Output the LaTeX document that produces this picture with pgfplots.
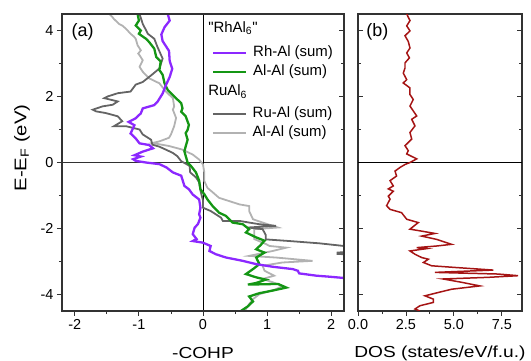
\documentclass[border=0pt]{standalone}
\usepackage{pgfplots}
\pgfplotsset{compat=1.18}
\usepackage{fontspec}
\setmainfont{Liberation Sans}
\newfontfamily\widefont[FakeStretch=1.2]{Liberation Sans}
\newfontfamily\qfont{Liberation Sans}
\definecolor{cviolet}{RGB}{140,40,255}
\definecolor{cgreen}{RGB}{20,150,20}
\definecolor{cdark}{RGB}{100,100,100}
\definecolor{clight}{RGB}{178,178,178}
\definecolor{cwine}{RGB}{165,20,20}
\definecolor{cframe}{RGB}{50,50,50}
\newcommand{\tfont}{\fontsize{14.5}{16}\selectfont}
\newcommand{\lfont}{\widefont\fontsize{16}{18}\selectfont}
\pgfplotsset{
  base/.style={
    scale only axis, width=282bp, height=297bp,
    ymin=-4.5, ymax=4.5,
    ytick={-4,-2,0,2,4}, minor ytick={-3,-1,1,3},
    major tick length=5bp, minor tick length=3bp,
    axis line style={cframe, line width=1.1pt},
    every tick/.style={cframe, line width=0.9pt},
    tick label style={font=\tfont},
    /pgf/number format/assume math mode=true,
    label style={font=\lfont},
  },
  legimg/.style={legend image code/.code={\draw[##1] (0bp,0bp) -- (33bp,0bp);}},
}
\begin{document}
\begin{tikzpicture}
\useasboundingbox (0,0) rectangle (531bp,361bp);
% ---------- panel (a)
\begin{axis}[base, at={(62bp,50bp)}, anchor=south west,
  xmin=-2.2, xmax=2.2,
  xtick={-2,-1,0,1,2}, minor xtick={-1.5,-0.5,0.5,1.5},
  xtick pos=bottom, ytick pos=left, tick align=outside,
  xlabel={-COHP}, ylabel={E-E\textsubscript{F} (eV)},
  xlabel style={at={(axis description cs:0.5,0)}, anchor=center, yshift=-42bp},
  ylabel style={at={(axis description cs:-0.142,0.549)}, anchor=center, font=\widefont\fontsize{17}{19}\selectfont},
  legimg,
  legend style={at={(axis description cs:0.531,0.9007)}, anchor=north west,
    draw=none, fill=none, inner sep=0pt, row sep=0pt,
    nodes={font=\fontsize{15}{17}\selectfont, inner xsep=6bp, inner ysep=3bp, text height=10bp, text depth=3bp}},
  legend cell align=left,
  clip=true,
]
\addplot[cframe, line width=0.8pt, forget plot] coordinates {(-2.2,0) (2.2,0)};
\addplot[black, line width=0.9pt, forget plot] coordinates {(0,-4.5) (0,4.5)};
% light gray: RuAl6 Al-Al
\addplot[clight, line width=1.8pt, forget plot] coordinates {
(-1.46,4.5) (-1.41,4.4) (-1.39,4.35) (-1.31,4.2) (-1.26,4.15) (-1.2,4.05) (-1.13,3.9) (-1.08,3.82) (-1.05,3.75) (-1.02,3.55) (-0.97,3.4) (-1.01,3.3) (-0.99,3.25) (-0.94,3.1) (-0.99,2.9) (-0.94,2.75) (-0.84,2.55) (-0.68,2.4) (-0.58,2.15) (-0.47,1.95) (-0.45,1.7) (-0.47,1.6) (-0.42,1.35) (-0.45,1.1) (-0.5,0.85) (-0.53,0.75) (-0.68,0.64) (-0.79,0.59) (-0.53,0.5) (-0.32,0.39) (-0.16,0.24) (-0.06,0.09) (0.0,-0.06) (0.02,-0.3) (0.02,-0.56) (0.07,-0.77) (0.15,-0.9) (0.25,-1.07) (0.41,-1.17) (0.57,-1.27) (0.72,-1.32) (0.72,-1.47) (0.78,-1.72) (0.93,-1.82) (1.17,-1.97) (0.80,-2.02) (0.80,-2.32) (0.98,-2.47) (1.04,-2.53) (1.3,-2.58) (1.09,-2.68) (0.72,-2.83) (1.14,-2.88) (1.71,-2.98) (1.24,-3.03) (0.93,-3.13) (0.96,-3.28) (1.11,-3.43) (0.93,-3.53) (1.09,-3.63) (1.24,-3.74) (1.14,-3.84) (0.88,-3.99) (0.78,-4.14) (0.72,-4.29) (0.65,-4.5)};
% dark gray: RuAl6 Ru-Al
\addplot[cdark, line width=1.8pt, forget plot] coordinates {
(-0.99,4.5) (-0.94,4.2) (-0.86,3.9) (-0.76,3.75) (-0.71,3.5) (-0.63,3.15) (-0.68,2.85) (-0.81,2.64) (-0.94,2.44) (-1.05,2.36) (-1.13,2.15) (-1.33,2.1) (-1.49,2.0) (-1.54,1.95) (-1.33,1.85) (-1.41,1.75) (-1.57,1.70) (-1.72,1.6) (-1.67,1.55) (-1.52,1.5) (-1.33,1.4) (-1.26,1.25) (-1.39,1.1) (-1.2,1.1) (-0.99,1.0) (-0.94,0.85) (-0.81,0.69) (-0.79,0.54) (-0.68,0.48) (-0.58,0.39) (-0.47,0.29) (-0.40,0.19) (-0.34,0.04) (-0.21,-0.1) (-0.2,-0.3) (-0.11,-0.45) (-0.06,-0.6) (-0.04,-0.85) (0.0,-1.15) (0.0,-1.37) (0.12,-1.47) (0.28,-1.67) (0.31,-1.77) (0.57,-1.77) (0.72,-1.82) (0.88,-1.87) (1.14,-1.92) (0.70,-1.97) (0.93,-2.02) (0.98,-2.2) (0.98,-2.33) (1.35,-2.38) (1.82,-2.45) (2.2,-2.53) (2.6,-2.6) (2.3,-2.7) (2.1,-2.73) (2.1,-2.77) (2.4,-2.8) (3.0,-3.0) (3.0,-4.5)};
% green: RhAl6 Al-Al
\addplot[cgreen, line width=2.3pt, forget plot] coordinates {
(-1.02,4.5) (-1.0,4.3) (-1.05,4.15) (-0.97,4.0) (-1.0,3.9) (-0.89,3.75) (-0.84,3.65) (-0.76,3.45) (-0.73,3.2) (-0.66,3.06) (-0.68,2.8) (-0.63,2.66) (-0.6,2.4) (-0.55,2.2) (-0.45,2.0) (-0.34,1.8) (-0.32,1.64) (-0.34,1.54) (-0.27,1.4) (-0.24,1.24) (-0.22,1.14) (-0.24,0.99) (-0.27,0.89) (-0.24,0.69) (-0.27,0.49) (-0.29,0.34) (-0.27,0.2) (-0.24,0.0) (-0.19,-0.1) (-0.11,-0.3) (-0.06,-0.55) (-0.04,-0.81) (0.02,-0.96) (0.07,-1.12) (0.15,-1.32) (0.25,-1.52) (0.36,-1.62) (0.46,-1.82) (0.62,-1.87) (0.72,-2.02) (0.67,-2.12) (0.83,-2.27) (0.96,-2.37) (0.90,-2.5) (0.83,-2.63) (0.96,-2.73) (0.83,-2.88) (0.88,-3.08) (0.78,-3.23) (0.67,-3.38) (0.83,-3.48) (0.98,-3.55) (0.83,-3.65) (0.70,-3.70) (1.17,-3.68) (1.30,-3.79) (1.09,-3.88) (0.88,-3.96) (0.72,-4.06) (0.78,-4.21) (0.70,-4.36) (0.59,-4.5)};
% purple: RhAl6 Rh-Al
\addplot[cviolet, line width=2.3pt, forget plot] coordinates {
(-0.55,4.5) (-0.52,4.3) (-0.60,4.1) (-0.65,3.88) (-0.63,3.68) (-0.53,3.38) (-0.52,3.08) (-0.48,2.84) (-0.52,2.59) (-0.58,2.34) (-0.63,2.09) (-0.71,1.84) (-0.76,1.74) (-0.94,1.64) (-0.97,1.49) (-1.05,1.34) (-1.16,1.23) (-1.07,1.13) (-1.13,0.88) (-1.05,0.73) (-0.99,0.58) (-0.84,0.53) (-0.78,0.43) (-0.94,0.33) (-1.07,0.22) (-0.97,0.18) (-1.09,0.1) (-1.05,0.05) (-0.89,0.0) (-0.68,-0.05) (-0.57,-0.15) (-0.47,-0.3) (-0.34,-0.4) (-0.29,-0.71) (-0.22,-0.81) (-0.16,-0.97) (-0.06,-1.12) (-0.04,-1.37) (-0.06,-1.57) (-0.04,-1.67) (-0.08,-1.87) (-0.13,-1.97) (-0.16,-2.17) (-0.10,-2.32) (-0.16,-2.38) (0.0,-2.43) (0.12,-2.53) (0.10,-2.68) (0.20,-2.78) (0.36,-2.88) (0.62,-2.98) (0.83,-3.08) (1.09,-3.16) (1.40,-3.23) (1.48,-3.28) (1.50,-3.36) (1.77,-3.43) (1.97,-3.46) (2.2,-3.5) (2.4,-3.55)};
\addlegendimage{cviolet, line width=2.3pt}
\addlegendentry{Rh-Al (sum)}
\addlegendimage{cgreen, line width=2.3pt}
\addlegendentry{Al-Al (sum)}
\node[font=\fontsize{18}{20}\selectfont, anchor=base west] at (axis description cs:0.022,0.925) {(a)};
\node[font=\fontsize{15}{17}\selectfont, anchor=base west, inner sep=0pt] at (axis description cs:0.518,0.939) {{\qfont"}RhAl\textsubscript{6}{\qfont"}};
\node[font=\fontsize{15}{17}\selectfont, anchor=base west, inner sep=0pt] at (axis description cs:0.518,0.724) {RuAl\textsubscript{6}};
\end{axis}
% overlay for right-side inward ticks + second legend
\begin{axis}[base, at={(62bp,50bp)}, anchor=south west,
  xmin=-2.2, xmax=2.2, xtick=\empty,
  ytick pos=right, tick align=inside, yticklabels={},
  legimg,
  legend style={at={(axis description cs:0.531,0.695)}, anchor=north west,
    draw=none, fill=none, inner sep=0pt, row sep=0pt,
    nodes={font=\fontsize{15}{17}\selectfont, inner xsep=6bp, inner ysep=3bp, text height=10bp, text depth=3bp}},
  legend cell align=left,
]
\addlegendimage{cdark, line width=1.8pt}
\addlegendentry{Ru-Al (sum)}
\addlegendimage{clight, line width=1.8pt}
\addlegendentry{Al-Al (sum)}
\end{axis}
% ---------- panel (b)
\begin{axis}[base, at={(358bp,50bp)}, anchor=south west, width=164bp,
  xmin=0, xmax=8.55,
  xtick={0,2.5,5,7.5}, minor xtick={1.25,3.75,6.25},
  xticklabel style={/pgf/number format/.cd, fixed, fixed zerofill, precision=1},
  xtick pos=bottom, ytick pos=both, xtick align=outside, ytick align=inside,
  yticklabels={},
  xlabel={DOS (states/eV/f.u.)},
  xlabel style={at={(axis description cs:0.5,0)}, anchor=center, yshift=-42bp},
]
\addplot[black, line width=1pt] coordinates {(0,0) (8.55,0)};
\addplot[cwine, line width=1.5pt] coordinates {
(2.54,4.5) (2.71,4.3) (2.54,4.14) (2.71,3.99) (2.45,3.84) (2.62,3.67) (2.71,3.47) (2.54,3.32) (2.68,3.17) (2.45,3.02) (2.45,2.86) (2.36,2.71) (2.54,2.51) (2.36,2.41) (2.71,2.26) (2.71,2.06) (2.88,1.91) (2.71,1.71) (3.06,1.41) (2.8,1.31) (2.97,1.11) (2.71,0.91) (2.8,0.71) (2.45,0.51) (2.62,0.36) (2.54,0.26) (3.06,0.11) (2.71,0.0) (2.45,-0.06) (2.19,-0.15) (1.93,-0.26) (2.01,-0.41) (1.67,-0.55) (1.84,-0.71) (1.58,-0.8) (1.84,-0.87) (1.58,-1.02) (1.67,-1.11) (1.49,-1.31) (1.67,-1.42) (2.27,-1.52) (2.54,-1.72) (3.14,-1.82) (2.71,-2.02) (3.32,-2.08) (4.01,-2.15) (3.32,-2.23) (4.1,-2.33) (4.88,-2.48) (4.1,-2.53) (3.06,-2.58) (3.58,-2.61) (2.71,-2.68) (2.97,-2.78) (3.32,-2.88) (3.67,-2.93) (3.41,-3.03) (3.84,-3.13) (5.05,-3.18) (7.05,-3.26) (4.01,-3.33) (7.31,-3.38) (8.35,-3.43) (6.79,-3.48) (4.44,-3.53) (5.4,-3.63) (6.35,-3.74) (4.88,-3.84) (4.18,-3.94) (3.49,-4.04) (3.93,-4.14) (3.93,-4.24) (3.23,-4.34) (2.97,-4.44) (3.23,-4.5)};
\node[font=\fontsize{18}{20}\selectfont, anchor=base west] at (axis description cs:0.03,0.925) {(b)};
\end{axis}
\end{tikzpicture}
\end{document}
